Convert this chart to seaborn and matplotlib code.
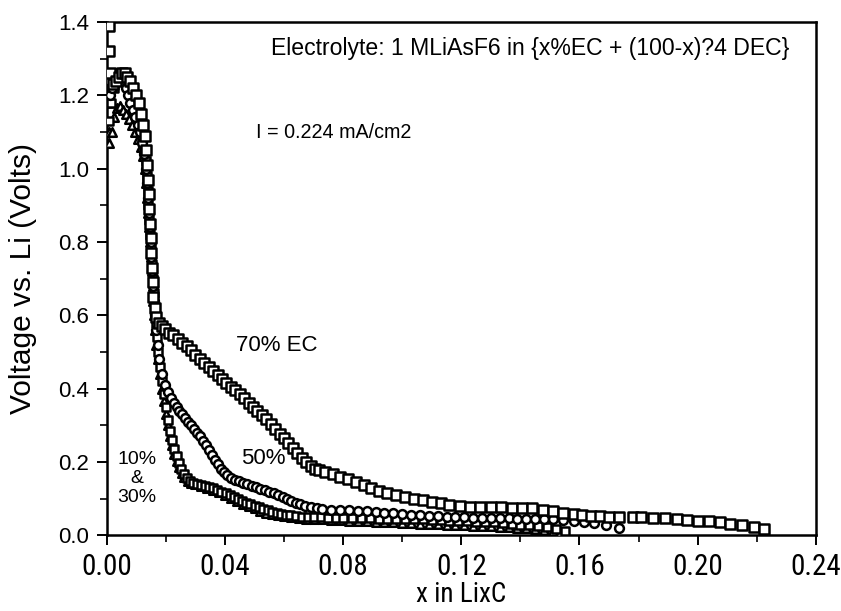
import matplotlib
matplotlib.use("Agg")
import matplotlib.pyplot as plt
from matplotlib import font_manager as fm
from matplotlib.ticker import MultipleLocator
import seaborn as sns
import pandas as pd

# ---- discharge data: x in LixC vs. voltage (V vs. Li) ----
x_70 = [0.0008, 0.0008, 0.0012, 0.0020, 0.0030, 0.0040, 0.0050, 0.0060, 0.0070, 0.0080,
        0.0090, 0.0100, 0.0108, 0.0115, 0.0122, 0.0128, 0.0133, 0.0137, 0.0140, 0.0142,
        0.0144, 0.0146, 0.0148, 0.0150, 0.0152, 0.0155, 0.0158, 0.0162, 0.0168, 0.0176,
        0.0186, 0.0196, 0.0210, 0.0225, 0.0240, 0.0255, 0.0270, 0.0285, 0.0300, 0.0315,
        0.0330, 0.0345, 0.0360, 0.0375, 0.0390, 0.0405, 0.0420, 0.0435, 0.0450, 0.0465,
        0.0480, 0.0495, 0.0510, 0.0525, 0.0540, 0.0555, 0.0570, 0.0585, 0.0600, 0.0615,
        0.0630, 0.0645, 0.0660, 0.0675, 0.0690, 0.0705, 0.0720, 0.0740, 0.0765, 0.0790,
        0.0817, 0.0845, 0.0870, 0.0895, 0.0920, 0.0950, 0.0980, 0.1010, 0.1040, 0.1070,
        0.1100, 0.1130, 0.1160, 0.1195, 0.1230, 0.1265, 0.1300, 0.1335, 0.1370, 0.1405,
        0.1440, 0.1475, 0.1510, 0.1545, 0.1580, 0.1610, 0.1640, 0.1670, 0.1700, 0.1735,
        0.1780, 0.1810, 0.1850, 0.1890, 0.1930, 0.1965, 0.2000, 0.2040, 0.2075, 0.2110,
        0.2150, 0.2190, 0.2225]
v_70 = [1.39, 1.32, 1.26, 1.23, 1.24, 1.25, 1.26, 1.26, 1.25, 1.24,
        1.22, 1.20, 1.18, 1.15, 1.12, 1.09, 1.05, 1.01, 0.97, 0.93,
        0.89, 0.85, 0.81, 0.77, 0.73, 0.69, 0.65, 0.62, 0.595, 0.58,
        0.57, 0.563, 0.553, 0.545, 0.535, 0.525, 0.515, 0.505, 0.493, 0.482,
        0.470, 0.458, 0.447, 0.436, 0.425, 0.415, 0.405, 0.395, 0.384, 0.373,
        0.362, 0.351, 0.340, 0.328, 0.316, 0.303, 0.290, 0.277, 0.264, 0.251,
        0.238, 0.225, 0.212, 0.200, 0.190, 0.182, 0.177, 0.172, 0.166, 0.160,
        0.153, 0.145, 0.137, 0.128, 0.120, 0.114, 0.110, 0.105, 0.100, 0.095,
        0.091, 0.087, 0.083, 0.080, 0.078, 0.077, 0.076, 0.076, 0.075, 0.074,
        0.073, 0.070, 0.066, 0.062, 0.058, 0.055, 0.053, 0.052, 0.051, 0.050,
        0.050, 0.050, 0.048, 0.046, 0.044, 0.042, 0.040, 0.038, 0.035, 0.032,
        0.028, 0.022, 0.018]

x_50 = [0.0008, 0.0010, 0.0016, 0.0024, 0.0032, 0.0040, 0.0048, 0.0056, 0.0064, 0.0072,
        0.0080, 0.0088, 0.0096, 0.0104, 0.0112, 0.0120, 0.0127, 0.0132, 0.0136, 0.0139,
        0.0142, 0.0145, 0.0148, 0.0151, 0.0154, 0.0157, 0.0160, 0.0163, 0.0167, 0.0172,
        0.0178, 0.0186, 0.0196, 0.0206, 0.0216, 0.0226, 0.0236, 0.0246, 0.0256, 0.0266,
        0.0276, 0.0286, 0.0296, 0.0306, 0.0316, 0.0326, 0.0336, 0.0346, 0.0356, 0.0366,
        0.0376, 0.0386, 0.0396, 0.0408, 0.0420, 0.0434, 0.0448, 0.0462, 0.0476, 0.0490,
        0.0505, 0.0520, 0.0535, 0.0550, 0.0565, 0.0580, 0.0595, 0.0610, 0.0625, 0.0640,
        0.0655, 0.0672, 0.0690, 0.0710, 0.0730, 0.0760, 0.0790, 0.0820, 0.0850, 0.0880,
        0.0910, 0.0940, 0.0970, 0.1000, 0.1030, 0.1060, 0.1090, 0.1120, 0.1150, 0.1180,
        0.1210, 0.1240, 0.1270, 0.1300, 0.1330, 0.1360, 0.1390, 0.1420, 0.1450, 0.1480,
        0.1510, 0.1545, 0.1580, 0.1615, 0.1650, 0.1690, 0.1735]
v_50 = [1.24, 1.20, 1.22, 1.25, 1.26, 1.26, 1.25, 1.24, 1.22, 1.20,
        1.18, 1.16, 1.14, 1.12, 1.10, 1.07, 1.04, 1.00, 0.96, 0.92,
        0.88, 0.84, 0.80, 0.76, 0.72, 0.68, 0.64, 0.60, 0.56, 0.52,
        0.48, 0.44, 0.41, 0.39, 0.375, 0.36, 0.35, 0.34, 0.33, 0.32,
        0.31, 0.30, 0.29, 0.28, 0.27, 0.258, 0.245, 0.232, 0.219, 0.206,
        0.194, 0.182, 0.172, 0.163, 0.157, 0.152, 0.147, 0.143, 0.139, 0.135,
        0.131, 0.127, 0.123, 0.119, 0.114, 0.109, 0.104, 0.099, 0.094, 0.089,
        0.084, 0.080, 0.076, 0.073, 0.071, 0.070, 0.069, 0.068, 0.067, 0.066,
        0.064, 0.062, 0.060, 0.058, 0.056, 0.055, 0.053, 0.052, 0.051, 0.050,
        0.049, 0.048, 0.047, 0.047, 0.046, 0.046, 0.045, 0.045, 0.044, 0.044,
        0.043, 0.042, 0.040, 0.037, 0.033, 0.028, 0.020]

x_30 = [0.0008, 0.0008, 0.0015, 0.0025, 0.0035, 0.0045, 0.0055, 0.0065, 0.0075, 0.0085,
        0.0095, 0.0105, 0.0113, 0.0120, 0.0126, 0.0131, 0.0135, 0.0138, 0.0141, 0.0144,
        0.0147, 0.0150, 0.0153, 0.0156, 0.0159, 0.0162, 0.0165, 0.0169, 0.0174, 0.0180,
        0.0187, 0.0194, 0.0201, 0.0208, 0.0215, 0.0222, 0.0229, 0.0236, 0.0243, 0.0251,
        0.0260, 0.0270, 0.0280, 0.0292, 0.0305, 0.0318, 0.0332, 0.0346, 0.0360, 0.0374,
        0.0388, 0.0402, 0.0416, 0.0430, 0.0444, 0.0458, 0.0472, 0.0486, 0.0500, 0.0515,
        0.0530, 0.0545, 0.0560, 0.0575, 0.0590, 0.0605, 0.0620, 0.0640, 0.0660, 0.0680,
        0.0700, 0.0725, 0.0750, 0.0775, 0.0800, 0.0830, 0.0860, 0.0890, 0.0920, 0.0950,
        0.0980, 0.1010, 0.1040, 0.1070, 0.1100, 0.1130, 0.1160, 0.1190, 0.1220, 0.1250,
        0.1280, 0.1310, 0.1340, 0.1370, 0.1400, 0.1430, 0.1460, 0.1490, 0.1520, 0.1550]
v_30 = [1.18, 1.13, 1.18, 1.22, 1.24, 1.245, 1.24, 1.23, 1.21, 1.19,
        1.17, 1.14, 1.11, 1.08, 1.05, 1.02, 0.98, 0.94, 0.90, 0.86,
        0.82, 0.78, 0.74, 0.70, 0.66, 0.62, 0.58, 0.54, 0.50, 0.46,
        0.42, 0.385, 0.35, 0.315, 0.285, 0.26, 0.235, 0.215, 0.198, 0.182,
        0.168, 0.156, 0.148, 0.142, 0.139, 0.137, 0.135, 0.132, 0.128, 0.124,
        0.119, 0.114, 0.109, 0.104, 0.099, 0.094, 0.089, 0.084, 0.080, 0.076,
        0.072, 0.068, 0.064, 0.061, 0.058, 0.056, 0.054, 0.052, 0.051, 0.050,
        0.049, 0.049, 0.048, 0.048, 0.047, 0.047, 0.046, 0.046, 0.045, 0.045,
        0.044, 0.044, 0.043, 0.043, 0.042, 0.041, 0.040, 0.039, 0.038, 0.037,
        0.036, 0.035, 0.033, 0.031, 0.029, 0.027, 0.025, 0.022, 0.018, 0.012]

x_10 = [0.0008, 0.0009, 0.0016, 0.0026, 0.0036, 0.0046, 0.0056, 0.0066, 0.0076, 0.0086,
        0.0096, 0.0106, 0.0115, 0.0123, 0.0129, 0.0134, 0.0137, 0.0140, 0.0143, 0.0146,
        0.0149, 0.0152, 0.0155, 0.0158, 0.0161, 0.0164, 0.0168, 0.0173, 0.0179, 0.0186,
        0.0193, 0.0200, 0.0207, 0.0214, 0.0221, 0.0228, 0.0236, 0.0244, 0.0253, 0.0263,
        0.0274, 0.0286, 0.0300, 0.0320, 0.0340, 0.0360, 0.0380, 0.0400, 0.0420, 0.0440,
        0.0460, 0.0480, 0.0500, 0.0520, 0.0540, 0.0560, 0.0580, 0.0600, 0.0625, 0.0650,
        0.0675, 0.0700, 0.0730, 0.0760, 0.0790, 0.0820, 0.0850, 0.0880, 0.0910, 0.0940,
        0.0970, 0.1000, 0.1030, 0.1060, 0.1090, 0.1120, 0.1150, 0.1180, 0.1210, 0.1240,
        0.1270, 0.1300, 0.1330, 0.1360, 0.1390, 0.1420, 0.1450, 0.1480, 0.1510, 0.1535]
v_10 = [1.10, 1.07, 1.10, 1.14, 1.165, 1.17, 1.16, 1.15, 1.135, 1.12,
        1.10, 1.08, 1.06, 1.035, 1.00, 0.96, 0.92, 0.88, 0.84, 0.80,
        0.76, 0.72, 0.68, 0.64, 0.60, 0.56, 0.52, 0.48, 0.44, 0.40,
        0.365, 0.33, 0.30, 0.27, 0.245, 0.222, 0.202, 0.185, 0.170, 0.158,
        0.149, 0.143, 0.139, 0.135, 0.130, 0.124, 0.117, 0.110, 0.102, 0.094,
        0.086, 0.079, 0.073, 0.067, 0.062, 0.058, 0.055, 0.052, 0.049, 0.047,
        0.045, 0.044, 0.043, 0.042, 0.041, 0.040, 0.039, 0.038, 0.037, 0.036,
        0.035, 0.034, 0.033, 0.032, 0.031, 0.030, 0.029, 0.028, 0.027, 0.026,
        0.025, 0.024, 0.023, 0.022, 0.021, 0.019, 0.017, 0.015, 0.012, 0.008]

x_ticks = [0.00, 0.04, 0.08, 0.12, 0.16, 0.20, 0.24]
x_tick_labels = ["0.00", "0.04", "0.08", "0.12", "0.16", "0.20", "0.24"]
y_ticks = [0.0, 0.2, 0.4, 0.6, 0.8, 1.0, 1.2, 1.4]
y_tick_labels = ["0.0", "0.2", "0.4", "0.6", "0.8", "1.0", "1.2", "1.4"]

sns.set_style("ticks")
plt.rcParams["font.family"] = ["Liberation Sans", "DejaVu Sans"]
plt.rcParams["text.color"] = "black"
plt.rcParams["axes.labelcolor"] = "black"
plt.rcParams["xtick.color"] = "black"
plt.rcParams["ytick.color"] = "black"
plt.rcParams["xtick.labelcolor"] = "black"
plt.rcParams["ytick.labelcolor"] = "black"


def condensed_font():
    """Find an installed condensed sans face for the x-axis text."""
    preferred = ["Liberation Sans Narrow", "Arial Narrow", "Roboto Condensed",
                 "Noto Sans", "Open Sans", "DejaVu Sans", "Roboto", "Lato", "Inter"]
    found = [f for f in fm.fontManager.ttflist
             if str(f.stretch) == "condensed" and f.style == "normal"
             and f.weight in (400, "normal", "regular", "book")
             and "Mono" not in f.name and "Serif" not in f.name]
    for name in preferred:
        for f in found:
            if f.name.startswith(name):
                return fm.FontProperties(fname=f.fname)
    if found:
        return fm.FontProperties(fname=found[0].fname)
    return None


cond = condensed_font()

fig = plt.figure(figsize=(8.41, 6.11), dpi=100)
ax = fig.add_axes([0.127, 0.124, 0.843, 0.840])

series = [
    ("10%", x_10, v_10, "^", 38),
    ("30%", x_30, v_30, "s", 36),
    ("50%", x_50, v_50, "o", 40),
    ("70%", x_70, v_70, "s", 42),
]
for name, xs, vs, mk, size in series:
    df = pd.DataFrame({"x": xs, "V": vs})
    sns.scatterplot(data=df, x="x", y="V", ax=ax, marker=mk, s=size,
                    color="white", edgecolor="black", linewidth=1.8,
                    legend=False, zorder=3)

ax.set_xlim(0, 0.24)
ax.set_ylim(0, 1.4)
ax.set_xticks(x_ticks)
ax.set_yticks(y_ticks)
ax.set_yticklabels(y_tick_labels, fontsize=16, color="black")
if cond is not None:
    xt_font = cond.copy()
    xt_font.set_size(21)
    xl_font = cond.copy()
    xl_font.set_size(19.5)
    ax.set_xticklabels(x_tick_labels, fontproperties=xt_font, color="black")
    ax.set_xlabel("x in LixC", fontproperties=xl_font, labelpad=0, color="black")
else:
    ax.set_xticklabels(x_tick_labels, fontsize=17, color="black")
    ax.set_xlabel("x in LixC", fontsize=17, labelpad=1, color="black")
ax.xaxis.set_minor_locator(MultipleLocator(0.02))
ax.yaxis.set_minor_locator(MultipleLocator(0.1))
ax.tick_params(axis="both", which="major", direction="out", length=7, width=1.4, color="black")
ax.tick_params(axis="both", which="minor", direction="out", length=5, width=1.2, color="black")
ax.tick_params(axis="x", which="major", pad=6)
ax.tick_params(axis="y", which="major", pad=6)

for side in ["left", "bottom", "top", "right"]:
    ax.spines[side].set_visible(True)
    ax.spines[side].set_color("black")
    ax.spines[side].set_linewidth(1.8)

ax.set_ylabel("Voltage vs. Li (Volts)", fontsize=21.5, labelpad=15, color="black")

ax.text(0.0557, 1.329, "Electrolyte: 1 MLiAsF6 in {x%EC + (100-x)?4 DEC}",
        fontsize=16.6, ha="left", va="center", color="black")
ax.text(0.0506, 1.099, "I = 0.224 mA/cm2", fontsize=14.2, ha="left", va="center",
        color="black")
ax.text(0.0439, 0.518, "70% EC", fontsize=16, ha="left", va="center", color="black")
ax.text(0.0456, 0.21, "50%", fontsize=16, ha="left", va="center", color="black")
ax.text(0.0102, 0.155, "10%\n&\n30%", fontsize=14, ha="center", va="center",
        linespacing=1.15, color="black")

fig.savefig("out.png", dpi=100)
